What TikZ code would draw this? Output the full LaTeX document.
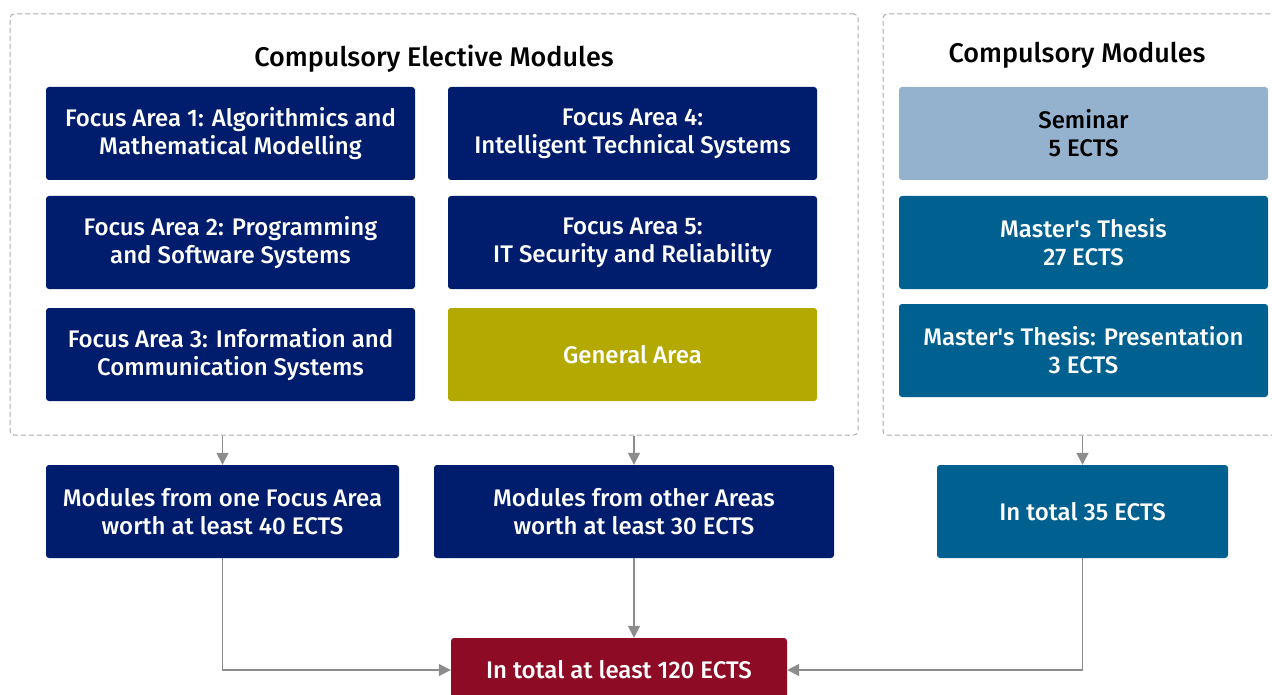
\documentclass[tikz,border=0pt]{standalone}
\usepackage{fontspec}
\setmainfont{Fira Sans}[BoldFont={Fira Sans Medium}]
\usetikzlibrary{arrows.meta}

\definecolor{navy}{HTML}{001C6C}
\definecolor{teal}{HTML}{00608F}
\definecolor{paleblue}{HTML}{94B1CD}
\definecolor{olive}{HTML}{B3A900}
\definecolor{wine}{HTML}{8E0B25}
\definecolor{arrgray}{HTML}{8C8C8C}
\definecolor{dashgray}{HTML}{ABABAB}

\tikzset{
    modbox/.style={rectangle,rounded corners=3pt,fill=navy,text=white,align=center,
        inner sep=0pt,minimum height=93pt,font=\fontsize{24}{28}\selectfont\bfseries},
    group/.style={rectangle,rounded corners=4pt,draw=dashgray,line width=1pt,
        dash pattern=on 5pt off 3pt,inner sep=0pt},
    grouptitle/.style={font=\fontsize{27}{30}\selectfont\bfseries},
    arr/.style={draw=arrgray,line width=1.4pt,-{Triangle[length=12pt,width=12pt]}}
}

\begin{document}
\begin{tikzpicture}[x=1pt,y=-1pt]
\useasboundingbox (0,0) rectangle (1272,695);

% groups
\node[group,minimum width=848pt,minimum height=421pt] (elective) at (434,224.5) {};
\node[group,minimum width=407pt,minimum height=421pt] (compulsory) at (1086.5,224.5) {};
\node[grouptitle] (eltitle) at (434,59) {Compulsory Elective Modules};
\node[grouptitle] (cotitle) at (1077,55) {Compulsory Modules};

% focus areas
\node[modbox,minimum width=369pt] (fa1) at (230.5,133.5) {Focus Area 1: Algorithmics and\\Mathematical Modelling};
\node[modbox,minimum width=369pt] (fa2) at (230.5,242.5) {Focus Area 2: Programming\\and Software Systems};
\node[modbox,minimum width=369pt] (fa3) at (230.5,354.5) {Focus Area 3: Information and\\Communication Systems};
\node[modbox,minimum width=369pt] (fa4) at (632.5,133.5) {Focus Area 4:\\Intelligent Technical Systems};
\node[modbox,minimum width=369pt] (fa5) at (632.5,242.5) {Focus Area 5:\\IT Security and Reliability};
\node[modbox,minimum width=369pt,fill=olive] (general) at (632.5,354.5) {General Area};

% compulsory modules
\node[modbox,minimum width=369pt,fill=paleblue,text=black] (seminar) at (1083.5,133.5) {Seminar\\5 ECTS};
\node[modbox,minimum width=369pt,fill=teal] (thesis) at (1083.5,242.5) {Master\textquotesingle s Thesis\\27 ECTS};
\node[modbox,minimum width=369pt,fill=teal] (present) at (1083.5,350.5) {Master\textquotesingle s Thesis: Presentation\\3 ECTS};

% totals
\node[modbox,minimum width=353pt] (onearea) at (222.5,511.5) {Modules from one Focus Area\\worth at least 40 ECTS};
\node[modbox,minimum width=400pt] (otherarea) at (634,511.5) {Modules from other Areas\\worth at least 30 ECTS};
\node[modbox,minimum width=291pt,fill=teal] (comptotal) at (1082.5,511.5) {In total 35 ECTS};
\node[modbox,minimum width=336pt,minimum height=64pt,fill=wine] (total) at (619,670) {In total at least 120 ECTS};

% arrows
\draw[arr] (elective.south -| onearea.north) -- (onearea.north);
\draw[arr] (elective.south -| otherarea.north) -- (otherarea.north);
\draw[arr] (compulsory.south -| comptotal.north) -- (comptotal.north);
\draw[arr] (onearea.south) |- (total.west);
\draw[arr] (otherarea.south) -- (otherarea.south |- total.north);
\draw[arr] (comptotal.south) |- (total.east);

\end{tikzpicture}
\end{document}
